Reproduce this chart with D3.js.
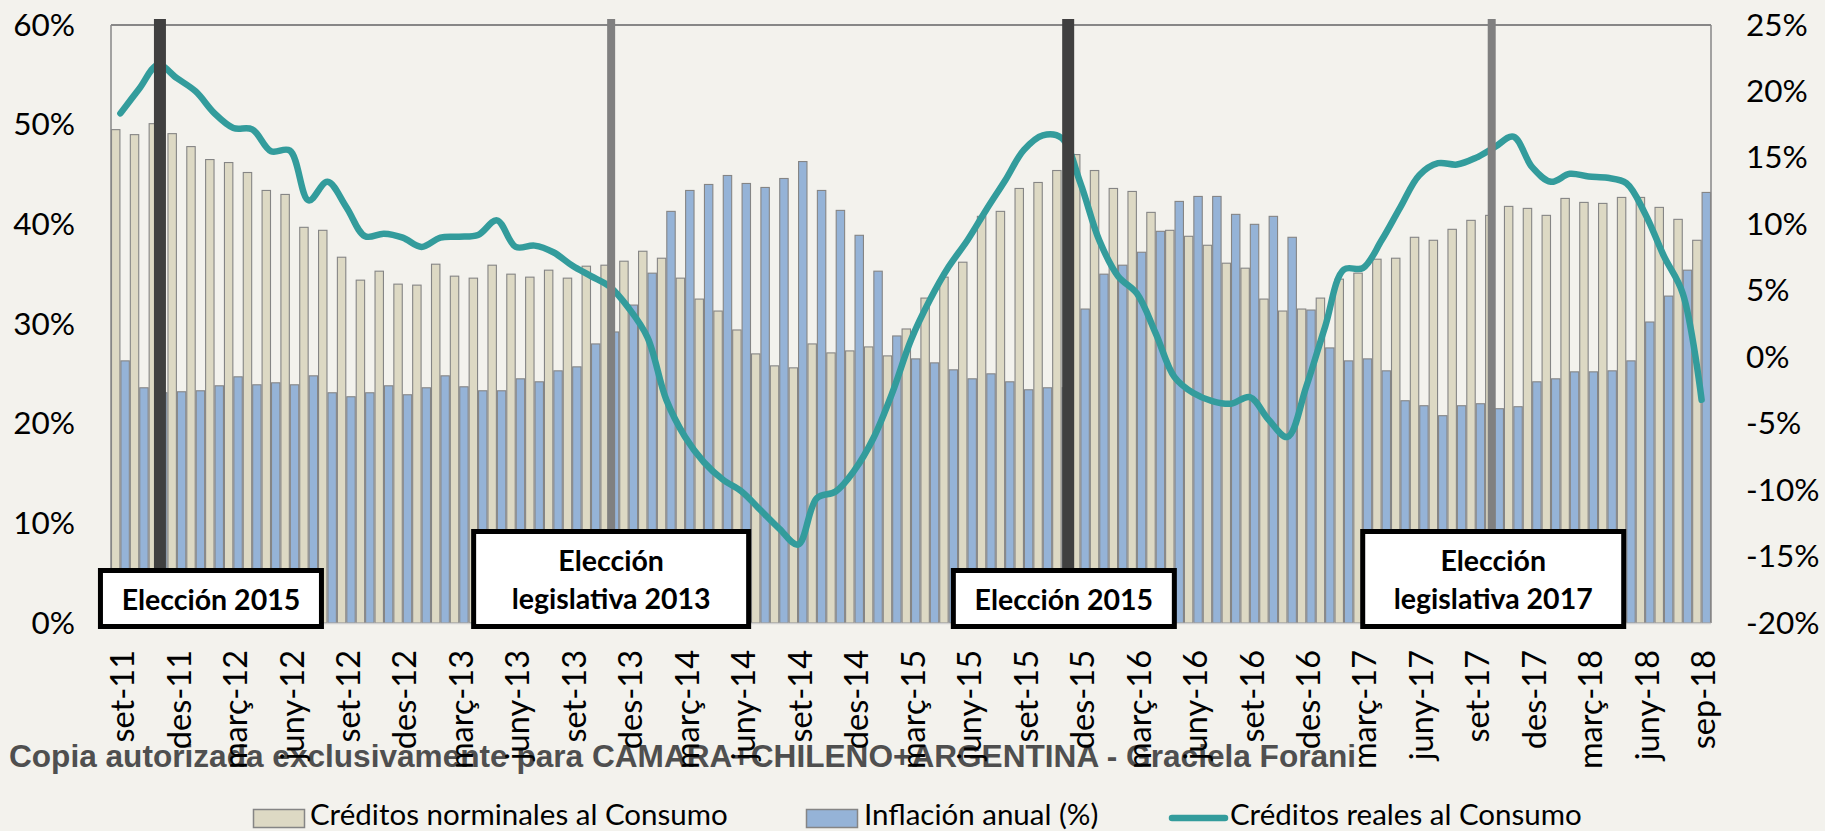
<!DOCTYPE html>
<html>
<head>
<meta charset="utf-8">
<script src="https://cdn.jsdelivr.net/npm/d3@7"></script>
<style>
  html, body { margin: 0; padding: 0; background: #F3F2ED; }
  svg { display: block; }
</style>
</head>
<body>
<svg id="chart" width="1825" height="831"></svg>
<script>
// ---------------- DATA ----------------
const categories = [
  "set-11","oct-11","nov-11","des-11",
  "gen-12","febr-12","març-12","abr-12","maig-12","juny-12","jul-12","ag-12","set-12","oct-12","nov-12","des-12",
  "gen-13","febr-13","març-13","abr-13","maig-13","juny-13","jul-13","ag-13","set-13","oct-13","nov-13","des-13",
  "gen-14","febr-14","març-14","abr-14","maig-14","juny-14","jul-14","ag-14","set-14","oct-14","nov-14","des-14",
  "gen-15","febr-15","març-15","abr-15","maig-15","juny-15","jul-15","ag-15","set-15","oct-15","nov-15","des-15",
  "gen-16","febr-16","març-16","abr-16","maig-16","juny-16","jul-16","ag-16","set-16","oct-16","nov-16","des-16",
  "gen-17","febr-17","març-17","abr-17","maig-17","juny-17","jul-17","ag-17","set-17","oct-17","nov-17","des-17",
  "gen-18","febr-18","març-18","abr-18","maig-18","juny-18","jul-18","ag-18","sep-18"
];

const tickLabels = [
  "set-11","des-11","març-12","juny-12","set-12","des-12","març-13","juny-13","set-13","des-13",
  "març-14","juny-14","set-14","des-14","març-15","juny-15","set-15","des-15","març-16","juny-16",
  "set-16","des-16","març-17","juny-17","set-17","des-17","març-18","juny-18","sep-18"
];

// Créditos nominales al Consumo (%), left axis
const nominal = [
  49.5, 49.0, 50.1, 49.1,
  47.8, 46.5, 46.2, 45.2, 43.4, 43.0, 39.7, 39.4, 36.7, 34.4, 35.3, 34.0,
  33.9, 36.0, 34.8, 34.6, 35.9, 35.0, 34.7, 35.4, 34.6, 35.8, 35.9, 36.3,
  37.3, 36.6, 34.6, 32.5, 31.3, 29.4, 27.0, 25.8, 25.6, 28.0, 27.1, 27.3,
  27.7, 26.8, 29.5, 32.6, 34.7, 36.2, 40.8, 41.3, 43.6, 44.2, 45.4, 47.0,
  45.4, 43.6, 43.3, 41.2, 39.4, 38.8, 37.9, 36.1, 35.6, 32.5, 31.3, 31.5,
  32.6, 34.5, 35.1, 36.5, 36.6, 38.7, 38.4, 39.5, 40.4, 40.9, 41.8, 41.6,
  40.9, 42.6, 42.2, 42.1, 42.7, 42.7, 41.7, 40.5, 38.4
];

// Inflación anual (%), left axis
const inflation = [
  26.3, 23.6, 23.1, 23.2,
  23.3, 23.8, 24.7, 23.9, 24.1, 23.9, 24.8, 23.1, 22.7, 23.1, 23.8, 22.9,
  23.6, 24.8, 23.7, 23.3, 23.3, 24.5, 24.2, 25.3, 25.7, 28.0, 29.2, 31.9,
  35.1, 41.3, 43.4, 44.0, 44.9, 44.1, 43.7, 44.6, 46.3, 43.4, 41.4, 38.9,
  35.3, 28.8, 26.5, 26.1, 25.4, 24.5, 25.0, 24.2, 23.4, 23.6, 23.6, 31.5,
  35.0, 35.9, 37.2, 39.3, 42.3, 42.8, 42.8, 41.0, 40.0, 40.8, 38.7, 31.4,
  27.6, 26.3, 26.5, 25.3, 22.3, 21.8, 20.8, 21.8, 22.0, 21.5, 21.7, 24.2,
  24.5, 25.2, 25.2, 25.3, 26.3, 30.2, 32.8, 35.4, 43.2
];

// Créditos reales al Consumo (%), right axis
const real = [
  18.35, 20.2, 22.0, 21.0,
  20.0, 18.35, 17.25, 17.15, 15.5, 15.55, 11.8, 13.2, 11.3, 9.1, 9.3, 9.0,
  8.3, 9.0, 9.07, 9.2, 10.3, 8.3, 8.4, 7.9, 6.9, 6.1, 5.3, 3.7,
  1.5, -3.2, -6.0, -7.9, -9.2, -10.1, -11.5, -12.9, -14.1, -10.6, -10.1, -8.5,
  -6.1, -2.7, 1.3, 4.3, 6.8, 8.8, 11.1, 13.3, 15.6, 16.7, 16.5, 13.1,
  8.8, 6.1, 4.8, 1.8, -1.5, -2.7, -3.3, -3.5, -3.0, -4.7, -6.0, -2.2,
  2.3, 6.6, 6.7, 8.8, 11.3, 13.7, 14.6, 14.5, 15.0, 15.8, 16.6, 14.3,
  13.2, 13.8, 13.6, 13.5, 13.1, 10.8, 7.6, 4.8, -3.2
];

const leftTicks = [0, 10, 20, 30, 40, 50, 60];
const rightTicks = [-20, -15, -10, -5, 0, 5, 10, 15, 20, 25];

const seriesNames = ["Créditos norminales al Consumo", "Inflación anual (%)", "Créditos reales al Consumo"];

// Election markers: position in months since set-11 (fractional)
const electionAt = [2.6, 26.57, 50.85, 73.35];
const electionKind = ["dark", "light", "dark", "light"];
const electionText = [["Elección 2015"], ["Elección", "legislativa 2013"], ["Elección 2015"], ["Elección", "legislativa 2017"]];
const boxAt = [5.31, 26.57, 50.62, 73.43];

// ---------------- LAYOUT ----------------
const W = 1825, H = 831;
const plot = { left: 111, right: 1711, top: 25, bottom: 623 };
const colors = {
  bg: "#F3F2ED",
  nominal: "#DDD9C4",
  inflation: "#95B3D7",
  real: "#339C9C",
  barStroke: "#858585",
  dark: "#404040",
  light: "#808080"
};
const FONT = "Lato, 'Open Sans', sans-serif";

const svg = d3.select("#chart");
svg.append("rect").attr("width", W).attr("height", H).attr("fill", colors.bg);

const x = d3.scaleBand().domain(categories).range([plot.left, plot.right]).paddingInner(0).paddingOuter(0);
const xSub = d3.scaleBand().domain(["nominal", "inflation"]).range([0, x.bandwidth()]).padding(0);
const xIdx = d3.scaleLinear().domain([0, categories.length]).range([plot.left, plot.right]);
const yL = d3.scaleLinear().domain([0, 60]).range([plot.bottom, plot.top]);
const yR = d3.scaleLinear().domain([-20, 25]).range([plot.bottom, plot.top]);

// ---------------- BARS ----------------
const rows = categories.map((c, i) => ({ c, nominal: nominal[i], inflation: inflation[i], real: real[i] }));

const gBars = svg.append("g");
["nominal", "inflation"].forEach(key => {
  gBars.append("g").selectAll("rect").data(rows).join("rect")
    .attr("x", d => x(d.c) + xSub(key) + 0.5)
    .attr("y", d => yL(d[key]))
    .attr("width", xSub.bandwidth() - 1)
    .attr("height", d => yL(0) - yL(d[key]))
    .attr("fill", colors[key])
    .attr("stroke", colors.barStroke)
    .attr("stroke-width", 1.1);
});

// plot frame
svg.append("line").attr("x1", plot.left).attr("x2", plot.right).attr("y1", plot.top).attr("y2", plot.top)
  .attr("stroke", "#878787").attr("stroke-width", 2);
svg.append("line").attr("x1", plot.left).attr("x2", plot.left).attr("y1", plot.top).attr("y2", plot.bottom)
  .attr("stroke", "#878787").attr("stroke-width", 1.5);
svg.append("line").attr("x1", plot.right).attr("x2", plot.right).attr("y1", plot.top).attr("y2", plot.bottom)
  .attr("stroke", "#878787").attr("stroke-width", 1.5);
svg.append("line").attr("x1", plot.left).attr("x2", plot.right).attr("y1", plot.bottom + 0.5).attr("y2", plot.bottom + 0.5)
  .attr("stroke", "#D0D0D0").attr("stroke-width", 1.5);

// ---------------- LINE ----------------
const line = d3.line()
  .x(d => x(d.c) + x.bandwidth() / 2)
  .y(d => yR(d.real))
  .curve(d3.curveCatmullRom.alpha(0.5));
svg.append("path").datum(rows)
  .attr("d", line)
  .attr("fill", "none")
  .attr("stroke", colors.real)
  .attr("stroke-width", 6.5)
  .attr("stroke-linecap", "round")
  .attr("stroke-linejoin", "round");

// ---------------- ELECTION LINES ----------------
electionAt.forEach((m, i) => {
  const dark = electionKind[i] === "dark";
  svg.append("rect")
    .attr("x", xIdx(m) - (dark ? 6 : 4))
    .attr("y", 19)
    .attr("width", dark ? 12 : 8)
    .attr("height", plot.bottom - 19)
    .attr("fill", dark ? colors.dark : colors.light);
});

// ---------------- ANNOTATION BOXES ----------------
const boxW = [226, 280, 226, 266];
electionText.forEach((lines, i) => {
  const cx = xIdx(boxAt[i]);
  const two = lines.length > 1;
  const top = two ? 529 : 568, bottom = 629;
  const w = boxW[i];
  const g = svg.append("g");
  g.append("rect")
    .attr("x", cx - w / 2 + 2.5).attr("y", top + 2.5)
    .attr("width", w - 5).attr("height", bottom - top - 5)
    .attr("fill", "#FFFFFF").attr("stroke", "#000").attr("stroke-width", 5);
  const ys = two ? [561, 599] : [600];
  lines.forEach((t, j) => {
    g.append("text")
      .attr("x", cx).attr("y", ys[j]).attr("dy", "0.36em")
      .attr("text-anchor", "middle")
      .attr("font-family", FONT).attr("font-weight", 700).attr("font-size", 28.5)
      .attr("fill", "#000").text(t);
  });
});

// ---------------- AXES ----------------
const axL = svg.append("g").attr("transform", `translate(${plot.left - 36},0)`)
  .call(d3.axisLeft(yL).tickValues(leftTicks).tickFormat(d => d + "%").tickSize(0).tickPadding(0));
axL.select(".domain").remove();
axL.selectAll("text").attr("font-family", FONT).attr("font-size", 31.5).attr("fill", "#000");

const axR = svg.append("g").attr("transform", `translate(1746,0)`)
  .call(d3.axisRight(yR).tickValues(rightTicks).tickFormat(d => d + "%").tickSize(0).tickPadding(0));
axR.select(".domain").remove();
axR.selectAll("text").attr("font-family", FONT).attr("font-size", 31.5).attr("fill", "#000");

// ---------------- WATERMARK ----------------
svg.append("text")
  .attr("x", 9).attr("y", 767)
  .attr("font-family", "'Liberation Sans', Arial, sans-serif")
  .attr("font-weight", 700).attr("font-size", 31.6)
  .attr("fill", "#4F4F4F")
  .text("Copia autorizada exclusivamente para CAMARA+CHILENO+ARGENTINA - Graciela Forani");

// x tick labels (every 3 months)
const tickCats = categories.filter((c, i) => i % 3 === 0);
const axB = svg.append("g").attr("transform", `translate(0,${plot.bottom})`)
  .call(d3.axisBottom(x).tickValues(tickCats).tickFormat((d, i) => tickLabels[i]).tickSize(0).tickPadding(0));
axB.select(".domain").remove();
axB.selectAll("text")
  .attr("font-family", FONT).attr("font-size", 32.5).attr("fill", "#000")
  .attr("text-anchor", "end")
  .attr("transform", "translate(2,27) rotate(-90)")
  .attr("x", 0).attr("y", 0).attr("dy", "0.36em");

// ---------------- LEGEND ----------------
const lg = svg.append("g").attr("font-family", FONT).attr("font-size", 29.5).attr("fill", "#000");
lg.append("rect").attr("x", 253.5).attr("y", 809.5).attr("width", 51).attr("height", 18)
  .attr("fill", colors.nominal).attr("stroke", colors.barStroke).attr("stroke-width", 1.5);
lg.append("text").attr("x", 310).attr("y", 814).attr("dy", "0.36em").text(seriesNames[0]);
lg.append("rect").attr("x", 806.5).attr("y", 809.5).attr("width", 51).attr("height", 18)
  .attr("fill", colors.inflation).attr("stroke", colors.barStroke).attr("stroke-width", 1.5);
lg.append("text").attr("x", 864).attr("y", 814).attr("dy", "0.36em").text(seriesNames[1]);
lg.append("line").attr("x1", 1172).attr("x2", 1225).attr("y1", 818).attr("y2", 818)
  .attr("stroke", colors.real).attr("stroke-width", 6.5).attr("stroke-linecap", "round");
lg.append("text").attr("x", 1230).attr("y", 814).attr("dy", "0.36em").text(seriesNames[2]);
</script>
</body>
</html>
